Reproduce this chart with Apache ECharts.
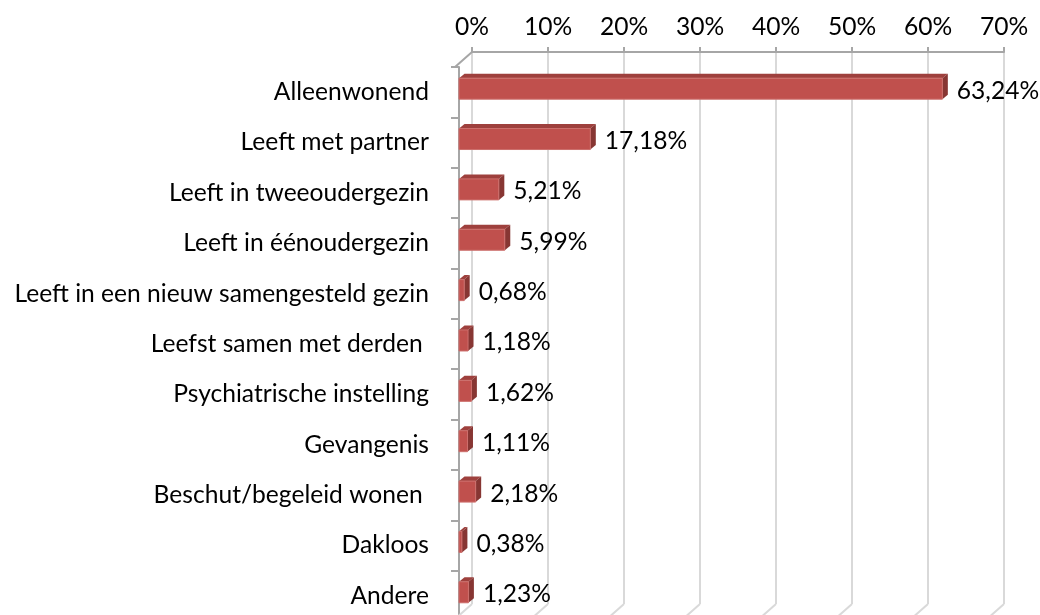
<!DOCTYPE html>
<html><head><meta charset="utf-8">
<script src="https://cdn.jsdelivr.net/npm/echarts@6/dist/echarts.min.js"></script>
<style>html,body{margin:0;padding:0;background:#fff}#c{width:1040px;height:615px}</style>
</head><body><div id="c"></div>
<script>
const categories = ['Alleenwonend','Leeft met partner','Leeft in tweeoudergezin','Leeft in éénoudergezin','Leeft in een nieuw samengesteld gezin','Leefst samen met derden ','Psychiatrische instelling','Gevangenis','Beschut/begeleid wonen ','Dakloos','Andere'];
const values = [63.24,17.18,5.21,5.99,0.68,1.18,1.62,1.11,2.18,0.38,1.23];
const xTicks = [0,10,20,30,40,50,60,70];

const FONT = 'Lato';
const FS = 24.6;
const DEPTH_X = 17, DEPTH_Y = 15;

function fmt(v){ return v.toFixed(2).replace('.', ',') + '%'; }

const chart = echarts.init(document.getElementById('c'), null, {renderer:'canvas'});
chart.setOption({
  animation: false,
  textStyle: {fontFamily: FONT},
  grid: [
    {left: 472, top: 52, width: 532, height: 552, outerBoundsMode: 'none', containLabel: false},
    {left: 459, top: 67, width: 535, height: 554, outerBoundsMode: 'none', containLabel: false}
  ],
  xAxis: [
    {gridIndex: 0, type: 'value', position: 'top', min: 0, max: 70, interval: 10,
     axisLine: {show: true, lineStyle: {color: '#a6a6a6', width: 2}},
     axisTick: {show: true, length: 5, lineStyle: {color: '#a6a6a6', width: 2}},
     axisLabel: {formatter: '{value}%', fontSize: FS, color: '#000', fontFamily: FONT, margin: 12},
     splitLine: {show: true, lineStyle: {color: '#d9d9d9', width: 2}}},
    {gridIndex: 1, type: 'value', min: 0, max: 70, interval: 10, show: false}
  ],
  yAxis: [
    {gridIndex: 0, type: 'category', data: categories, inverse: true, show: false},
    {gridIndex: 1, type: 'category', data: categories, inverse: true, offset: 4,
     axisLine: {show: true, lineStyle: {color: '#a6a6a6', width: 2}},
     axisTick: {show: true, length: 8, lineStyle: {color: '#a6a6a6', width: 2}},
     axisLabel: {fontSize: FS, color: '#000', fontFamily: FONT, margin: 26, padding: [4, 0, 0, 0]},
     splitLine: {show: false}}
  ],
  series: [
    {
      type: 'custom', xAxisIndex: 0, yAxisIndex: 0, silent: true,
      data: xTicks.map(t => [t, 0]),
      renderItem: function(params, api){
        const cs = params.coordSys;
        const x = api.coord([api.value(0), 0])[0];
        const yb = cs.y + cs.height;
        const children = [
          {type:'line', shape:{x1:x, y1:yb, x2:x-DEPTH_X, y2:yb+DEPTH_Y}, style:{stroke:'#d9d9d9', lineWidth:2}}
        ];
        if (api.value(0) === 0) {
          children.push({type:'line', shape:{x1:cs.x, y1:cs.y, x2:cs.x-DEPTH_X, y2:cs.y+DEPTH_Y}, style:{stroke:'#a6a6a6', lineWidth:2}});
        }
        return {type:'group', children};
      }
    },
    {
      type: 'custom', xAxisIndex: 1, yAxisIndex: 1, silent: true,
      data: values.map((v, i) => [v, i]),
      renderItem: function(params, api){
        const v = api.value(0), i = api.value(1);
        const p0 = api.coord([0, i]);
        const p1 = api.coord([v, i]);
        const band = api.size([0, 1])[1];
        const cy = p0[1] - band * 0.07;
        const h = 21, dx = 5.5, dy = -4.5;
        const x0 = p0[0], x1 = p1[0], y0 = cy - h/2, y1 = cy + h/2;
        return {type:'group', children:[
          {type:'polygon', shape:{points:[[x0,y0],[x1,y0],[x1+dx,y0+dy],[x0+dx,y0+dy]]}, style:{fill:'#9e403d'}},
          {type:'polygon', shape:{points:[[x1,y0],[x1+dx,y0+dy],[x1+dx,y1+dy],[x1,y1]]}, style:{fill:'#873633'}},
          {type:'rect', shape:{x:x0, y:y0, width:x1-x0, height:h}, style:{fill:'#c0504d', stroke:'#cd6f6c', lineWidth:1}},
          {type:'text', style:{text: fmt(v), x: x1 + dx + 9, y: cy + 2, verticalAlign:'middle', align:'left', fill:'#000', font: FS + 'px ' + FONT}}
        ]};
      }
    }
  ]
});
</script>
</body></html>
